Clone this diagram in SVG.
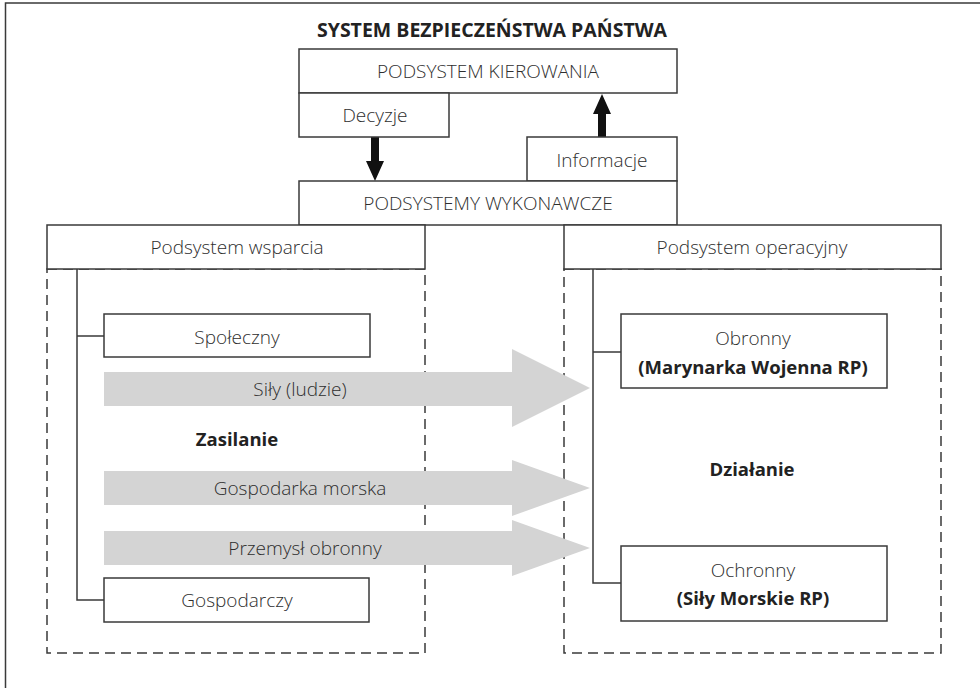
<svg xmlns="http://www.w3.org/2000/svg" width="980" height="688" viewBox="0 0 980 688">
  <style>
    .box { fill: #ffffff; stroke: #3a3a3a; stroke-width: 1.5; }
    .dash { fill: none; stroke: #3a3a3a; stroke-width: 1.5; stroke-dasharray: 10 6; }
    .line { fill: none; stroke: #3a3a3a; stroke-width: 1.5; }
    .flow { fill: #d4d4d4; }
    .t { font-family: "Open Sans", "Noto Sans", "Liberation Sans", sans-serif; font-weight: 300; font-size: 19px; fill: #2e2e2e; text-anchor: middle; }
    .b { font-family: "Open Sans", "Noto Sans", "Liberation Sans", sans-serif; font-weight: 700; font-size: 18.5px; fill: #222222; text-anchor: middle; }
  </style>

  <!-- outer frame -->
  <path class="line" d="M5.5 700 V3 H990" stroke-width="2"/>

  <text class="b" x="492" y="37" style="font-size:19.5px">SYSTEM BEZPIECZEŃSTWA PAŃSTWA</text>

  <!-- dashed subsystem areas -->
  <g id="area-support"><rect class="dash" x="47" y="269" width="378" height="384"/></g>
  <g id="area-operational"><rect class="dash" x="564" y="269" width="377" height="384"/></g>

  <g id="connectors">
    <!-- support tree -->
    <path class="line" d="M77 269 V600 H104 M77 336 H104"/>
    <!-- operational tree -->
    <path class="line" d="M593 269 V583 H621 M593 352 H621"/>
    <!-- decisions (down) and information (up) -->
    <path fill="#111" d="M371 137 H379 V161 H384 L375 181 L366 161 H371 Z"/>
    <path fill="#111" d="M598 137 H606 V114 H611 L602 94 L593 114 H598 Z"/>
  </g>

  <!-- gray flow arrows -->
  <g id="flow-forces">
    <path class="flow" d="M104 372 H512 V349 L590 388 L512 427 V406 H104 Z"/>
    <text class="t" x="300" y="396">Siły (ludzie)</text>
  </g>
  <g id="flow-economy">
    <path class="flow" d="M104 471 H512 V460 L590 488 L512 516 V505 H104 Z"/>
    <text class="t" x="300" y="495">Gospodarka morska</text>
  </g>
  <g id="flow-industry">
    <path class="flow" d="M104 531 H512 V520 L590 548 L512 576 V565 H104 Z"/>
    <text class="t" x="305" y="555">Przemysł obronny</text>
  </g>

  <g id="kierowania">
    <rect class="box" x="299" y="49" width="378" height="44"/>
    <text class="t" x="488" y="78">PODSYSTEM KIEROWANIA</text>
  </g>
  <g id="decyzje">
    <rect class="box" x="299" y="93" width="150" height="44"/>
    <text class="t" x="375" y="122">Decyzje</text>
  </g>
  <g id="informacje">
    <rect class="box" x="527" y="137" width="150" height="44"/>
    <text class="t" x="602" y="167">Informacje</text>
  </g>
  <g id="wykonawcze">
    <rect class="box" x="299" y="181" width="378" height="44"/>
    <text class="t" x="488" y="210">PODSYSTEMY WYKONAWCZE</text>
  </g>
  <g id="wsparcia">
    <rect class="box" x="47" y="225" width="378" height="44"/>
    <text class="t" x="237" y="254">Podsystem wsparcia</text>
  </g>
  <g id="operacyjny">
    <rect class="box" x="564" y="225" width="377" height="44"/>
    <text class="t" x="752" y="254">Podsystem operacyjny</text>
  </g>
  <g id="spoleczny">
    <rect class="box" x="104" y="314" width="266" height="43"/>
    <text class="t" x="237" y="344">Społeczny</text>
  </g>
  <g id="gospodarczy">
    <rect class="box" x="104" y="578" width="265" height="44"/>
    <text class="t" x="237" y="607">Gospodarczy</text>
  </g>
  <g id="obronny">
    <rect class="box" x="621" y="314" width="266" height="74"/>
    <text class="t" x="753" y="345">Obronny</text>
    <text class="b" x="753" y="374">(Marynarka Wojenna RP)</text>
  </g>
  <g id="ochronny">
    <rect class="box" x="621" y="546" width="266" height="75"/>
    <text class="t" x="753" y="577">Ochronny</text>
    <text class="b" x="753" y="605">(Siły Morskie RP)</text>
  </g>

  <text class="b" x="237" y="446">Zasilanie</text>
  <text class="b" x="752" y="476">Działanie</text>
</svg>
